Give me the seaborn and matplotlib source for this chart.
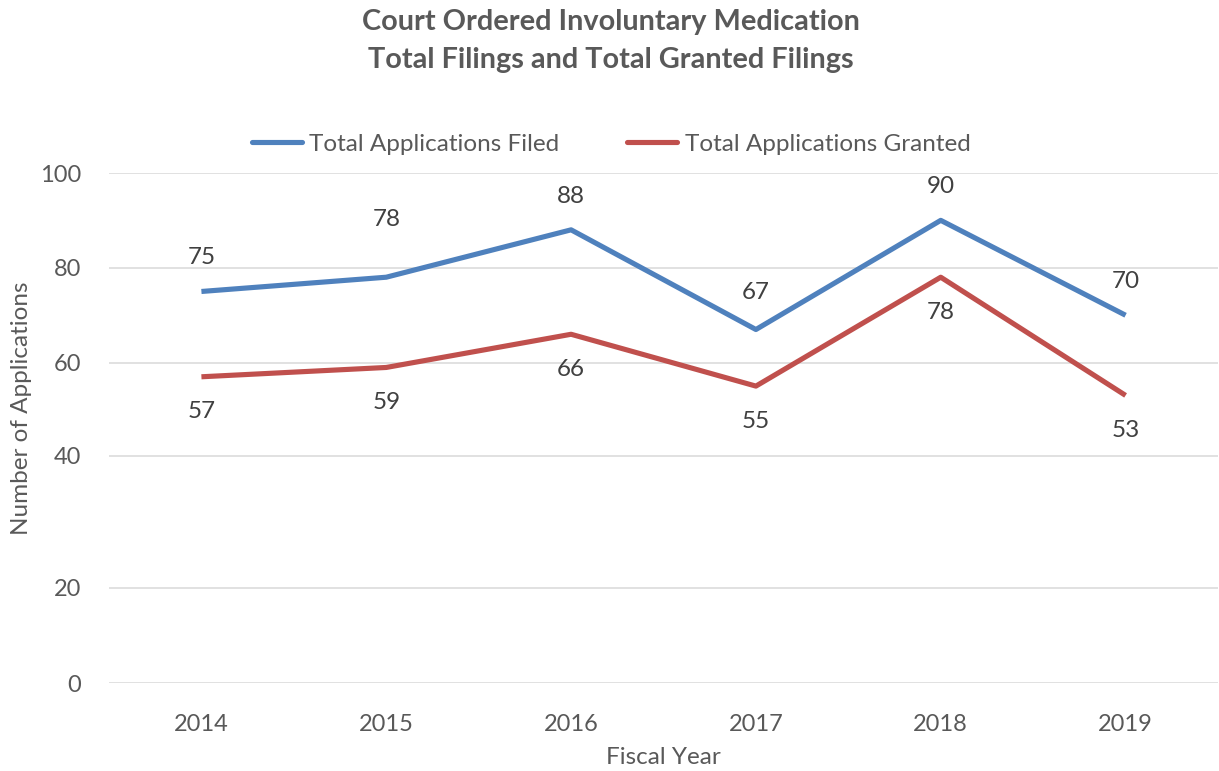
import numpy as np
import pandas as pd
import matplotlib
matplotlib.use("Agg")
import matplotlib.pyplot as plt
import seaborn as sns

# ─────────────────────────────────────────────
# DATOS
# ─────────────────────────────────────────────
years = ["2014", "2015", "2016", "2017", "2018", "2019"]
filed = [75, 78, 88, 67, 90, 70]
granted = [57, 59, 66, 55, 78, 53]
series_names = ["Total Applications Filed", "Total Applications Granted"]

y_ticks = [0, 20, 40, 60, 80, 100]
# the original axis is not evenly spaced: relative height of each tick
y_tick_pos = [0, 95.1, 227.0, 320.2, 415.3, 510.0]

BLUE = "#4F81BD"
RED = "#C0504D"
GRAY = "#595959"
LABEL = "#404040"
GRID = "#D9D9D9"

df = pd.DataFrame({
    "Fiscal Year": years * 2,
    "Applications": filed + granted,
    "Series": [series_names[0]] * len(years) + [series_names[1]] * len(years),
})

sns.set_theme(style="white")
plt.rcParams["font.family"] = ["Lato", "DejaVu Sans"]


def fwd(v):
    return np.interp(v, y_ticks, y_tick_pos)


def inv(u):
    return np.interp(u, y_tick_pos, y_ticks)


fig = plt.figure(figsize=(12.19, 7.71), dpi=100)
ax = fig.add_axes([109 / 1219, 1 - 683 / 771, 1109 / 1219, 510 / 771])
ax.set_yscale("function", functions=(fwd, inv))

sns.lineplot(data=df, x="Fiscal Year", y="Applications", hue="Series",
             palette=[BLUE, RED], linewidth=3.7, ax=ax, legend=False,
             solid_capstyle="butt")

ax.set_xlim(-0.5, len(years) - 0.5)
ax.set_ylim(0, 100)
ax.set_yticks(y_ticks)
ax.yaxis.grid(True, color=GRID, linewidth=1.1)
ax.set_axisbelow(True)
for s in ax.spines.values():
    s.set_visible(False)
ax.tick_params(axis="both", length=0, colors=GRAY, labelsize=17)
ax.tick_params(axis="y", pad=20)
ax.tick_params(axis="x", pad=22)

ax.set_xlabel("Fiscal Year", color=GRAY, fontsize=17.5, va="center")
ax.xaxis.set_label_coords(0.5, (683 - 757) / 510)
ax.set_ylabel("Number of Applications", color=GRAY, fontsize=17.5, va="center")
ax.yaxis.set_label_coords((22 - 109) / 1109, (683 - 408) / 510)

# etiquetas de datos
up_offsets = [34, 58, 33, 37, 34, 34]
for i, (f, g) in enumerate(zip(filed, granted)):
    ax.annotate(str(f), (i, f), xytext=(0, up_offsets[i]), textcoords="offset pixels",
                ha="center", va="center", fontsize=17.5, color=LABEL)
    ax.annotate(str(g), (i, g), xytext=(0, -35), textcoords="offset pixels",
                ha="center", va="center", fontsize=17.5, color=LABEL)

handles = [plt.Line2D([], [], color=BLUE, linewidth=3.7),
           plt.Line2D([], [], color=RED, linewidth=3.7)]
fig.legend(handles, series_names, loc="center", bbox_to_anchor=(611 / 1219, 1 - 144 / 771),
           ncol=2, frameon=False, fontsize=17.5, handlelength=2.06, handletextpad=0.3,
           columnspacing=2.8, labelcolor=GRAY, borderpad=0)

fig.text(611 / 1219, 1 - 22 / 771, "Court Ordered Involuntary Medication",
         ha="center", va="center", fontsize=20.8, fontweight="bold", color=GRAY)
fig.text(611 / 1219, 1 - 60 / 771, "Total Filings and Total Granted Filings",
         ha="center", va="center", fontsize=20.8, fontweight="bold", color=GRAY)

fig.savefig("out.png", dpi=100)
